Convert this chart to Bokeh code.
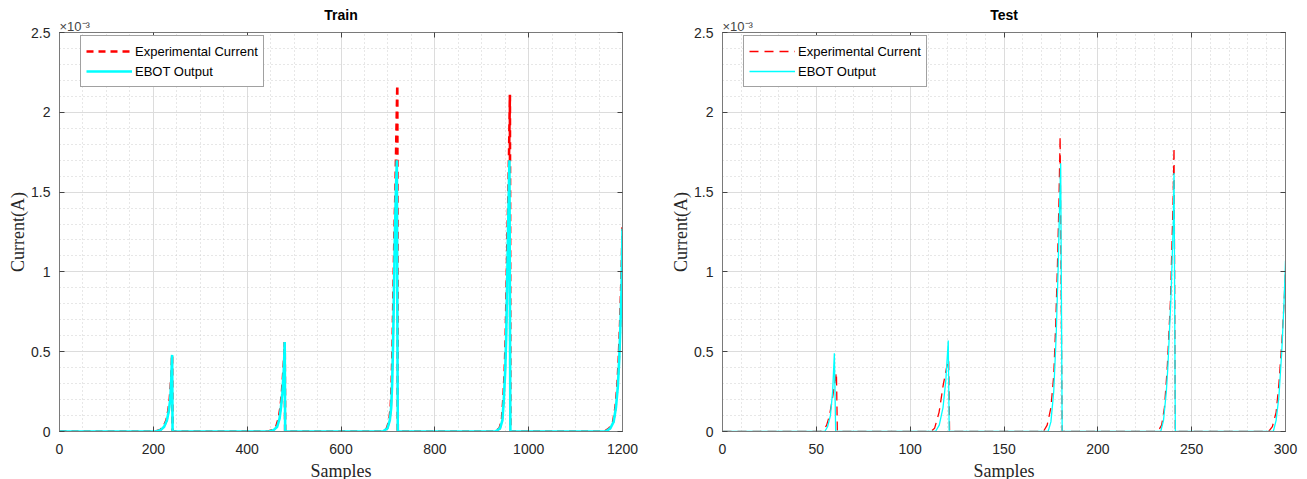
from bokeh.plotting import figure
from bokeh.layouts import row
from bokeh.models import FixedTicker, LinearAxis, Legend, LegendItem, Range1d, Title
from bokeh.embed import file_html
from bokeh.resources import INLINE

# ---------------- data (current in units of 1e-3 A) ----------------
train_exp_x = [0, 205, 215, 222, 228, 232, 235, 237, 239, 240, 241,
               445, 455, 462, 467, 471, 474, 477, 479, 480, 481,
               688, 698, 703, 706, 708, 710, 712, 714, 716, 718, 720, 721,
               928, 938, 943, 946, 949, 951, 953, 955, 957, 959, 960, 961,
               1162, 1172, 1180, 1185, 1189, 1192, 1195, 1197, 1199, 1200]
train_exp_y = [0, 0, 0.01, 0.03, 0.07, 0.13, 0.20, 0.28, 0.38, 0.48, 0,
               0, 0.01, 0.03, 0.08, 0.15, 0.24, 0.37, 0.47, 0.56, 0,
               0, 0.02, 0.07, 0.15, 0.30, 0.55, 0.90, 1.25, 1.50, 1.85, 2.17, 0,
               0, 0.02, 0.07, 0.20, 0.38, 0.58, 0.90, 1.25, 1.50, 1.90, 2.11, 0,
               0, 0.02, 0.06, 0.15, 0.28, 0.45, 0.68, 0.88, 1.10, 1.28]

train_ebot_x = [0, 206, 216, 223, 229, 233, 236, 238, 239, 240, 241,
                447, 457, 464, 469, 472, 475, 478, 479, 480, 481,
                689, 699, 704, 707, 709, 711, 713, 715, 717, 719, 721,
                929, 939, 944, 947, 950, 952, 954, 956, 958, 959, 961,
                1164, 1174, 1181, 1186, 1190, 1193, 1196, 1198, 1199, 1200]
train_ebot_y = [0, 0, 0.01, 0.03, 0.07, 0.13, 0.20, 0.30, 0.39, 0.48, 0,
                0, 0.01, 0.03, 0.08, 0.15, 0.24, 0.38, 0.46, 0.56, 0,
                0, 0.02, 0.07, 0.15, 0.30, 0.55, 0.90, 1.25, 1.50, 1.70, 0,
                0, 0.02, 0.07, 0.20, 0.38, 0.58, 0.90, 1.25, 1.55, 1.70, 0,
                0, 0.02, 0.06, 0.15, 0.28, 0.45, 0.70, 0.90, 1.08, 1.27]

test_exp_x = [0, 52, 54, 55.5, 57, 58.5, 59.5, 60.7, 61.2,
              111, 113, 115.4, 117.6, 119.4, 120.5, 121,
              171, 173, 175, 176.5, 177.5, 178.5, 179.3, 179.9, 181,
              232, 234, 235.5, 237, 238.7, 240.1, 240.6, 241.3,
              291, 293, 295, 296.5, 298, 299.2, 300]
test_exp_y = [0, 0, 0.01, 0.04, 0.10, 0.20, 0.28, 0.37, 0,
              0, 0.02, 0.12, 0.29, 0.40, 0.45, 0,
              0, 0.04, 0.15, 0.35, 0.65, 1.05, 1.45, 1.85, 0,
              0, 0.04, 0.15, 0.40, 0.82, 1.44, 1.78, 0,
              0, 0.03, 0.12, 0.30, 0.55, 0.80, 1.01]

test_ebot_x = [0, 54.5, 56, 57.5, 58.7, 59.6, 60.3,
               113.5, 115.5, 117.5, 119, 120.3, 120.8,
               173.5, 175, 176.5, 177.8, 178.8, 179.6, 180.2, 181,
               233.5, 235, 236.5, 237.3, 238.9, 240.2, 240.6, 241.3,
               293.5, 295, 296.5, 298, 299.2, 300]
test_ebot_y = [0, 0, 0.03, 0.10, 0.25, 0.49, 0,
               0, 0.04, 0.15, 0.32, 0.57, 0,
               0, 0.06, 0.25, 0.60, 1.00, 1.40, 1.68, 0,
               0, 0.07, 0.25, 0.40, 0.82, 1.30, 1.62, 0,
               0, 0.07, 0.22, 0.50, 0.80, 1.07]

y_ticks = [0, 0.5, 1, 1.5, 2, 2.5]
y_tick_labels = ["0", "0.5", "1", "1.5", "2", "2.5"]
train_x_ticks = [0, 200, 400, 600, 800, 1000, 1200]
test_x_ticks = [0, 50, 100, 150, 200, 250, 300]
legend_labels = ["Experimental Current", "EBOT Output"]
scale_text = "×10⁻³"

AX = "#7a7a7a"
TXT = "#262626"
SANS = "Liberation Sans"
SERIF = "Liberation Serif"


def make_panel(title, xs_exp, ys_exp, xs_ebot, ys_ebot, x_ticks, x_minor_step,
               xmax, border_left, border_right, lw, dash):
    p = figure(frame_width=563, frame_height=399, output_backend="svg",
               toolbar_location=None, title=None,
               x_range=Range1d(0, xmax), y_range=Range1d(0, 2.5),
               min_border_left=border_left, min_border_right=border_right,
               min_border_top=32, min_border_bottom=48)
    p.background_fill_color = "white"
    p.border_fill_color = "white"
    p.outline_line_color = AX

    n_minor = int(round(xmax / x_minor_step))
    x_minor = [i * x_minor_step for i in range(n_minor + 1)]
    y_minor = [round(i * 0.1, 2) for i in range(26)]
    xt = FixedTicker(ticks=x_ticks, minor_ticks=x_minor)
    yt = FixedTicker(ticks=y_ticks, minor_ticks=y_minor)
    p.xaxis.ticker = xt
    p.yaxis.ticker = yt
    p.xgrid.ticker = xt
    p.ygrid.ticker = yt
    p.yaxis.major_label_overrides = dict(zip(y_ticks, y_tick_labels))

    for ax in (p.xaxis[0], p.yaxis[0]):
        ax.axis_line_color = AX
        ax.major_tick_line_color = "#444444"
        ax.major_tick_in = 5
        ax.major_tick_out = 0
        ax.minor_tick_line_color = None
        ax.major_label_text_font = SANS
        ax.major_label_text_font_size = "14px"
        ax.major_label_text_color = TXT
        ax.axis_label_text_font = SERIF
        ax.axis_label_text_font_size = "18px"
        ax.axis_label_text_font_style = "normal"
        ax.axis_label_text_color = TXT
    p.xaxis.axis_label = "Samples"
    p.yaxis.axis_label = "Current(A)"
    p.xaxis.major_label_standoff = 8
    p.yaxis.major_label_standoff = 5
    p.xaxis.axis_label_standoff = 4
    p.yaxis.axis_label_standoff = 0

    for loc, tk in (("above", xt), ("right", yt)):
        a = LinearAxis(ticker=tk, axis_line_color=AX, major_tick_line_color="#444444",
                       major_tick_in=5, major_tick_out=0, minor_tick_line_color=None,
                       major_label_text_font_size="1px", major_label_text_color=None,
                       major_label_standoff=0)
        p.add_layout(a, loc)

    p.add_layout(Title(text=scale_text, align="left", text_font=SANS,
                       text_font_size="13px", text_font_style="normal",
                       text_color="#444444", standoff=-10), "above")
    p.add_layout(Title(text=title, align="center", text_font=SANS,
                       text_font_size="14px", text_font_style="bold",
                       text_color="#000000", standoff=-2), "above")

    for g in (p.xgrid[0], p.ygrid[0]):
        g.grid_line_color = "#dcdcdc"
        g.grid_line_width = 1
        g.minor_grid_line_color = "#cfcfcf"
        g.minor_grid_line_dash = "1 3"
        g.minor_grid_line_width = 1

    r_exp = p.line(xs_exp, ys_exp, line_color="#ff0000", line_width=lw, line_dash=dash)
    r_ebot = p.line(xs_ebot, ys_ebot, line_color="#00ffff", line_width=lw)

    legend = Legend(items=[LegendItem(label=legend_labels[0], renderers=[r_exp]),
                           LegendItem(label=legend_labels[1], renderers=[r_ebot])],
                    location=(21, 344))
    legend.label_text_font = SANS
    legend.label_text_font_size = "13px"
    legend.label_text_color = "#000000"
    legend.glyph_width = 46
    legend.glyph_height = 20
    legend.label_height = 20
    legend.label_standoff = 3
    legend.padding = 5
    legend.spacing = 0
    legend.margin = 0
    legend.border_line_color = "#444444"
    legend.border_line_width = 1
    legend.background_fill_color = "white"
    legend.background_fill_alpha = 1
    p.add_layout(legend, "center")
    return p


p1 = make_panel("Train", train_exp_x, train_exp_y, train_ebot_x, train_ebot_y,
                train_x_ticks, 50, 1200, 59, 44, 2.6, "7 5")
p2 = make_panel("Test", test_exp_x, test_exp_y, test_ebot_x, test_ebot_y,
                test_x_ticks, 10, 300, 56, 14, 1.3, "9 6")

layout = row(p1, p2, spacing=0)
open("out.html", "w").write(file_html(layout, INLINE))
